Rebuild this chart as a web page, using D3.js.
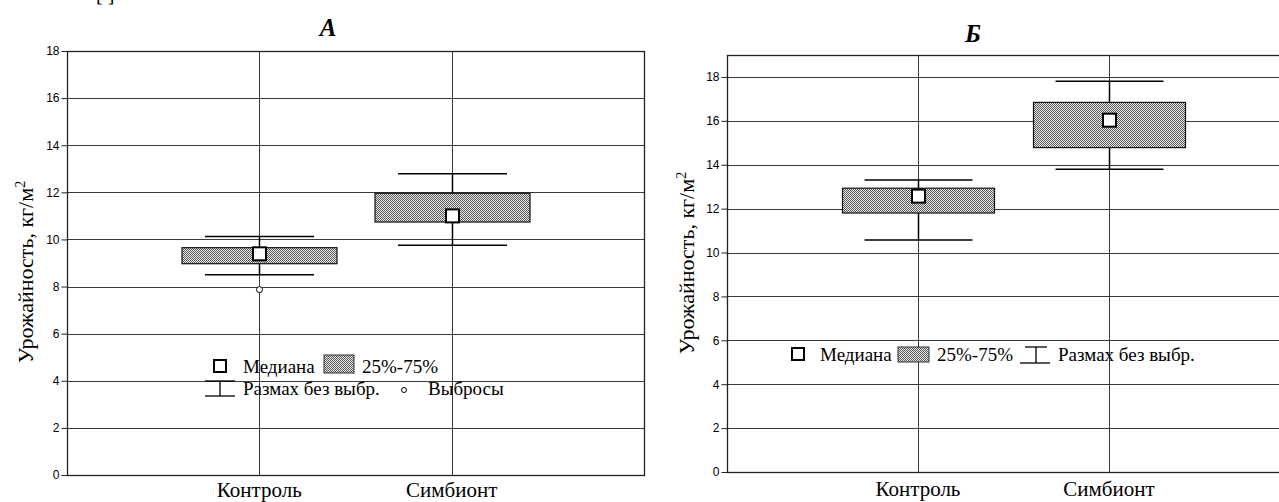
<!DOCTYPE html>
<html><head><meta charset="utf-8">
<script src="https://cdn.jsdelivr.net/npm/d3@7/dist/d3.min.js"></script>
<style>body{margin:0;background:#fff;overflow:hidden}svg{display:block}</style>
</head><body>
<svg id="c" width="1279" height="502"></svg>
<script>
const categories = ["Контроль", "Симбионт"];
// Chart A
const aMedian = [9.39, 11.0];
const aQ1 = [8.97, 10.74];
const aQ3 = [9.65, 11.96];
const aMin = [8.5, 9.75];
const aMax = [10.12, 12.79];
const aOutliers = [[7.87], []];
const aTicks = [0, 2, 4, 6, 8, 10, 12, 14, 16, 18];
// Chart B
const bMedian = [12.57, 16.03];
const bQ1 = [11.8, 14.78];
const bQ3 = [12.93, 16.84];
const bMin = [10.57, 13.8];
const bMax = [13.3, 17.8];
const bTicks = [0, 2, 4, 6, 8, 10, 12, 14, 16, 18];
const yLabel = "Урожайность, кг/м";

const svg = d3.select("#c");
const defs = svg.append("defs");
const pat = defs.append("pattern").attr("id","hatch").attr("patternUnits","userSpaceOnUse").attr("width",2).attr("height",2);
pat.append("rect").attr("width",2).attr("height",2).attr("fill","#e8e8e8");
pat.append("rect").attr("x",0).attr("y",0).attr("width",1).attr("height",1).attr("fill","#5a5a5a");
pat.append("rect").attr("x",1).attr("y",1).attr("width",1).attr("height",1).attr("fill","#5a5a5a");

const serif = "Liberation Serif";
const sans = "Liberation Sans";

// bracket fragment at top
svg.append("text").attr("x",96).attr("y",1).style("font-family",serif).attr("font-size",20).text("[  ]");

function chart(o){
  const g = svg.append("g");
  const x = d3.scalePoint().domain(categories).range([o.x0,o.x1]).padding(1);
  const y = d3.scaleLinear().domain(o.ydom).range([o.y0,o.y1]);
  g.selectAll(".hg").data(o.ticks).join("line")
    .attr("x1",o.x0).attr("x2",o.x1).attr("y1",d=>Math.round(y(d))+0.5).attr("y2",d=>Math.round(y(d))+0.5)
    .attr("stroke","#3a3a3a").attr("stroke-width",1);
  g.selectAll(".vg").data(categories).join("line")
    .attr("x1",d=>Math.round(x(d))+0.5).attr("x2",d=>Math.round(x(d))+0.5).attr("y1",y.range()[1]).attr("y2",y.range()[0])
    .attr("stroke","#3a3a3a").attr("stroke-width",1);
  g.append("rect").attr("x",o.x0+0.5).attr("y",o.y1+0.5).attr("width",o.x1-o.x0).attr("height",o.y0-o.y1)
    .attr("fill","none").attr("stroke","#222").attr("stroke-width",1.3);
  const ax = g.append("g").attr("transform",`translate(${o.x0+0.5},0)`)
    .call(d3.axisLeft(y).tickValues(o.ticks).tickSize(6).tickPadding(2).tickFormat(d3.format("d")));
  ax.select(".domain").remove();
  ax.selectAll("text").style("font-family",sans).attr("font-size",12).attr("fill","#000");
  ax.selectAll("line").attr("stroke","#222");
  g.selectAll(".xl").data(categories).join("text")
    .attr("x",d=>x(d)).attr("y",o.xlY).attr("text-anchor","middle")
    .style("font-family",serif).attr("font-size",21).text(d=>d);
  const yl = g.append("text").attr("transform",`translate(${o.ylX},${o.ylY}) rotate(-90)`)
    .attr("text-anchor","middle").style("font-family",serif).attr("font-size",22);
  yl.append("tspan").text(yLabel);
  yl.append("tspan").attr("dy",-8).attr("font-size",14).text("2");
  g.append("text").attr("x",o.tX).attr("y",o.tY).attr("text-anchor","middle")
    .style("font-family",serif).attr("font-size",25).attr("font-weight","bold").attr("font-style","italic").text(o.title);
  categories.forEach((c,i)=>{
    const cx = Math.round(x(c))+0.5;
    g.append("line").attr("x1",cx).attr("x2",cx).attr("y1",y(o.min[i])).attr("y2",y(o.max[i])).attr("stroke","#000").attr("stroke-width",1.5);
    [o.min[i],o.max[i]].forEach(v=>{
      g.append("line").attr("x1",cx-o.capW/2).attr("x2",cx+o.capW/2).attr("y1",y(v)).attr("y2",y(v)).attr("stroke","#000").attr("stroke-width",1.5);
    });
    g.append("rect").attr("x",cx-o.boxW/2).attr("y",y(o.q3[i])).attr("width",o.boxW).attr("height",y(o.q1[i])-y(o.q3[i]))
      .attr("fill","url(#hatch)").attr("stroke","#111").attr("stroke-width",1.2);
    g.append("rect").attr("x",cx-6.5).attr("y",y(o.med[i])-6.5).attr("width",13).attr("height",13)
      .attr("fill","#fff").attr("stroke","#000").attr("stroke-width",2);
    (o.out ? o.out[i] : []).forEach(v=>{
      g.append("circle").attr("cx",cx).attr("cy",y(v)).attr("r",3).attr("fill","#fff").attr("stroke","#000").attr("stroke-width",1);
    });
  });
  return g;
}

chart({x0:67,x1:644,y0:475,y1:51,ydom:[0,18],ticks:aTicks,med:aMedian,q1:aQ1,q3:aQ3,min:aMin,max:aMax,out:aOutliers,
  boxW:155,capW:109,xlY:497,ylX:33,ylY:272,title:"А",tX:328,tY:36});
chart({x0:727,x1:1300,y0:472,y1:55,ydom:[0,19],ticks:bTicks,med:bMedian,q1:bQ1,q3:bQ3,min:bMin,max:bMax,out:null,
  boxW:152,capW:108,xlY:496,ylX:694,ylY:263,title:"Б",tX:973,tY:42});

function legSquare(x,y){ svg.append("rect").attr("x",x).attr("y",y).attr("width",12).attr("height",12).attr("fill","#fff").attr("stroke","#000").attr("stroke-width",2); }
function legHatch(x,y,w,h){ svg.append("rect").attr("x",x).attr("y",y).attr("width",w).attr("height",h).attr("fill","url(#hatch)").attr("stroke","#333").attr("stroke-width",1); }
function legWhisk(x1,x2,xb1,xb2,yt,yb){
  const cx=(x1+x2)/2;
  svg.append("line").attr("x1",x1).attr("x2",x2).attr("y1",yt).attr("y2",yt).attr("stroke","#000").attr("stroke-width",1.3);
  svg.append("line").attr("x1",cx).attr("x2",cx).attr("y1",yt).attr("y2",yb).attr("stroke","#000").attr("stroke-width",1.3);
  svg.append("line").attr("x1",xb1).attr("x2",xb2).attr("y1",yb).attr("y2",yb).attr("stroke","#000").attr("stroke-width",1.3);
}
function legText(x,y,t){ svg.append("text").attr("x",x).attr("y",y).style("font-family",serif).attr("font-size",19).text(t); }

legSquare(214,360); legText(243,373,"Медиана");
legHatch(324,355,30,18); legText(362,373,"25%-75%");
legWhisk(205,235,205,235,381,396); legText(243,395,"Размах без выбр.");
svg.append("circle").attr("cx",404).attr("cy",390).attr("r",2.5).attr("fill","#fff").attr("stroke","#000");
legText(428,395,"Выбросы");

legSquare(792,348); legText(820,361,"Медиана");
legHatch(898,347,31,15); legText(937,361,"25%-75%");
legWhisk(1025,1047,1020,1050,347,363); legText(1058,361,"Размах без выбр.");
</script>
</body></html>
